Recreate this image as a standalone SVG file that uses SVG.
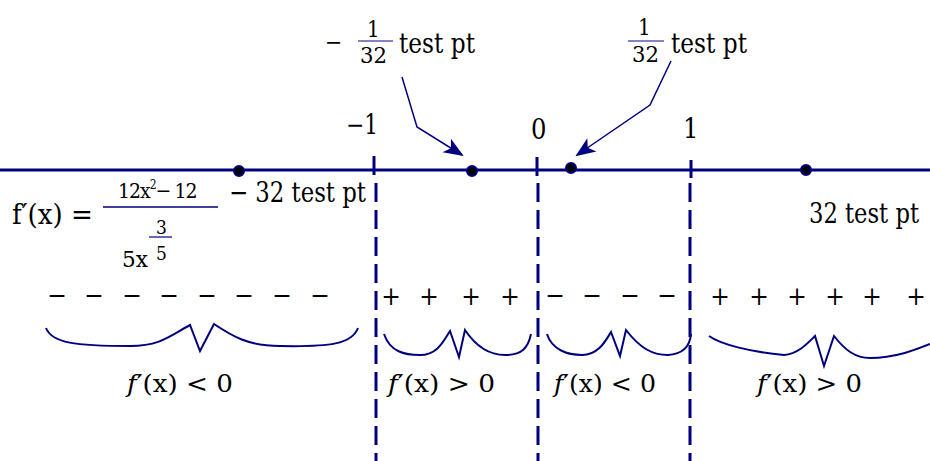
<svg xmlns="http://www.w3.org/2000/svg" width="930" height="461" viewBox="0 0 930 461">
<defs>
<style>
text{font-family:'DejaVu Serif','Liberation Serif',serif;font-stretch:condensed;fill:#000}
.ln{stroke:#00007f;fill:none}
.axis{stroke:#00007f;stroke-width:3;fill:none}
.dash{stroke:#00007f;stroke-width:3;stroke-dasharray:19 8;fill:none}
.brace{stroke:#00007f;stroke-width:2;fill:none}
.dot{fill:#000;stroke:#00007f;stroke-width:2}
.bar{stroke:#5a5ab0;stroke-width:1.5}
</style>
<marker id="ah" viewBox="0 0 20 20" refX="18" refY="10" markerWidth="20" markerHeight="20" markerUnits="userSpaceOnUse" orient="auto">
<path d="M0,2 L20,10 L0,18 L5,10 Z" fill="#00007f"/>
</marker>
</defs>
<rect width="930" height="461" fill="#fff"/>

<g id="axis">
<line class="axis" x1="0" y1="170" x2="930" y2="170"/>
<line class="axis" x1="374" y1="156" x2="374" y2="175"/>
<line class="axis" x1="537" y1="157" x2="537" y2="176"/>
<line class="axis" x1="691" y1="160" x2="691" y2="178"/>
</g>

<g id="connectors">
<line class="dash" x1="376" y1="183" x2="376" y2="461"/>
<line class="dash" x1="538" y1="183" x2="538" y2="461"/>
<line class="dash" x1="690" y1="183" x2="690" y2="461"/>
<polyline class="ln" stroke-width="1.5" points="402,77 417,127 462,155" marker-end="url(#ah)"/>
<polyline class="ln" stroke-width="1.5" points="671,61 650,105 577,155" marker-end="url(#ah)"/>
</g>

<g id="points">
<circle class="dot" cx="239" cy="171" r="5"/>
<circle class="dot" cx="472" cy="171" r="5"/>
<circle class="dot" cx="571" cy="168" r="5"/>
<circle class="dot" cx="806" cy="170" r="5"/>
</g>

<g id="ticklabels" font-size="27">
<text x="346" y="134" textLength="32" lengthAdjust="spacingAndGlyphs">−1</text>
<text x="531" y="139">0</text>
<text x="683" y="138">1</text>
</g>

<g id="label-neg132">
<text x="325" y="50" font-size="23">−</text>
<text x="367" y="37" font-size="22">1</text>
<line class="bar" x1="358" y1="41" x2="393" y2="41"/>
<text x="360" y="63" font-size="22" textLength="27" lengthAdjust="spacingAndGlyphs">32</text>
<text x="399" y="53" font-size="28" textLength="76" lengthAdjust="spacingAndGlyphs">test pt</text>
</g>

<g id="label-pos132">
<text x="638" y="35" font-size="22">1</text>
<line class="bar" x1="628" y1="41" x2="664" y2="41"/>
<text x="632" y="62" font-size="22" textLength="27" lengthAdjust="spacingAndGlyphs">32</text>
<text x="671" y="53" font-size="28" textLength="76" lengthAdjust="spacingAndGlyphs">test pt</text>
</g>

<g id="formula">
<text x="12" y="224" font-size="28" textLength="81" lengthAdjust="spacingAndGlyphs">f′(x) =</text>
<text x="118" y="198" font-size="21" letter-spacing="-1">12x<tspan font-size="12" dy="-9">2</tspan><tspan dy="9">−</tspan><tspan dx="4">12</tspan></text>
<line x1="103" y1="207" x2="218" y2="207" stroke="#00007f" stroke-width="1.5"/>
<text x="122" y="267" font-size="22" textLength="26" lengthAdjust="spacingAndGlyphs">5x</text>
<text x="156" y="234" font-size="19">3</text>
<line x1="149" y1="237" x2="172" y2="237" stroke="#00007f" stroke-width="1.2"/>
<text x="156" y="260" font-size="19">5</text>
<text x="229" y="202" font-size="28" textLength="137" lengthAdjust="spacingAndGlyphs">− 32 test pt</text>
</g>

<g id="label-32">
<text x="809" y="223" font-size="28" textLength="110" lengthAdjust="spacingAndGlyphs">32 test pt</text>
</g>

<g id="signs" font-size="26" text-anchor="middle">
<text x="57" y="304">−</text><text x="94" y="304">−</text><text x="132" y="304">−</text><text x="169" y="304">−</text><text x="207" y="304">−</text><text x="244" y="304">−</text><text x="282" y="304">−</text><text x="320" y="304">−</text>
<text x="391" y="305">+</text><text x="429" y="305">+</text><text x="471" y="305">+</text><text x="510" y="305">+</text>
<text x="555" y="304">−</text><text x="592" y="304">−</text><text x="630" y="304">−</text><text x="667" y="304">−</text>
<text x="720" y="305">+</text><text x="759" y="305">+</text><text x="797" y="305">+</text><text x="835" y="305">+</text><text x="872" y="305">+</text><text x="916" y="305">+</text>
</g>

<g id="braces">
<path class="brace" d="M46,328 C52,343 75,346 130,346 C160,346 170,336 190,325 L200,351 L214,324 C232,336 248,346 280,346 C330,347 352,344 358,328"/>
<path class="brace" d="M384,334 C390,352 405,355 420,355 C438,355 444,340 450,331 L459,357 L465,330 C475,345 488,355 505,355 C522,355 528,348 531,334"/>
<path class="brace" d="M547,334 C552,350 568,355 582,355 C598,355 605,342 611,332 L620,356 L626,330 C640,348 652,355 668,355 C684,354 690,345 691,334"/>
<path class="brace" d="M709,336 C720,344 750,352 784,355 C798,354 808,343 815,336 L824,366 L834,336 C845,350 855,358 870,358 C895,358 915,350 930,344"/>
</g>

<g id="interval-labels" font-size="25">
<text x="127" y="392" textLength="106" lengthAdjust="spacingAndGlyphs"><tspan font-style="italic">f</tspan>′(x) &lt; 0</text>
<text x="388" y="392" textLength="107" lengthAdjust="spacingAndGlyphs"><tspan font-style="italic">f</tspan>′(x) &gt; 0</text>
<text x="554" y="392" textLength="102" lengthAdjust="spacingAndGlyphs"><tspan font-style="italic">f</tspan>′(x) &lt; 0</text>
<text x="757" y="392" textLength="105" lengthAdjust="spacingAndGlyphs"><tspan font-style="italic">f</tspan>′(x) &gt; 0</text>
</g>
</svg>
